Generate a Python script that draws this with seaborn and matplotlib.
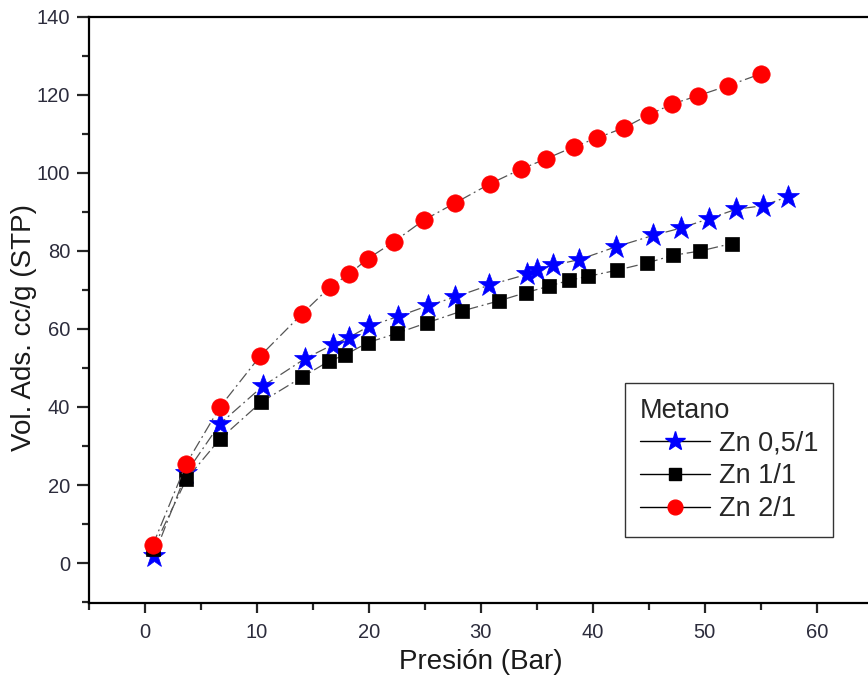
import matplotlib
matplotlib.use("Agg")
import matplotlib.pyplot as plt
from matplotlib.lines import Line2D
from matplotlib.ticker import MultipleLocator
import seaborn as sns

# Data
p_zn05 = [0.8, 3.7, 6.7, 10.5, 14.3, 16.8, 18.2, 20.0, 22.6, 25.3, 27.7, 30.7,
          34.1, 35.0, 36.4, 38.8, 42.1, 45.4, 47.9, 50.4, 52.8, 55.2, 57.4]
v_zn05 = [1.8, 23.2, 35.7, 45.3, 52.4, 56.0, 57.8, 60.7, 63.2, 66.0, 68.2, 71.2,
          74.0, 75.2, 76.3, 77.8, 81.1, 84.0, 85.9, 88.3, 90.7, 91.6, 93.9]

p_zn11 = [0.7, 3.7, 6.7, 10.4, 14.0, 16.4, 17.9, 19.9, 22.5, 25.2, 28.3, 31.6,
          34.0, 36.1, 37.9, 39.6, 42.2, 44.8, 47.2, 49.6, 52.4]
v_zn11 = [3.5, 21.5, 31.8, 41.3, 47.6, 51.7, 53.4, 56.5, 58.9, 61.6, 64.6, 67.2,
          69.3, 71.0, 72.5, 73.5, 75.1, 76.9, 78.9, 80.0, 81.9]

p_zn21 = [0.7, 3.7, 6.7, 10.3, 14.0, 16.5, 18.2, 19.9, 22.2, 24.9, 27.7, 30.8,
          33.6, 35.8, 38.3, 40.4, 42.8, 45.0, 47.1, 49.4, 52.1, 55.0]
v_zn21 = [4.6, 25.5, 40.0, 53.1, 63.8, 70.7, 74.0, 78.0, 82.3, 87.9, 92.3, 97.2,
          101.0, 103.6, 106.7, 109.0, 111.6, 114.9, 117.7, 119.8, 122.4, 125.4]

series = [
    ("Zn 0,5/1", p_zn05, v_zn05, "*", "#0000ff", 17),
    ("Zn 1/1", p_zn11, v_zn11, "s", "#000000", 10),
    ("Zn 2/1", p_zn21, v_zn21, "o", "#ff0000", 12.5),
]


def main():
    sns.set_style("ticks")
    plt.rcParams["font.family"] = ["Liberation Sans", "DejaVu Sans"]

    fig = plt.figure(figsize=(8.68, 6.77), dpi=100)
    ax = fig.add_axes([0.1025, 0.109, 0.903, 0.866])

    handles = []
    for name, x, y, mk, col, ms in series:
        sns.lineplot(x=x, y=y, ax=ax, color="#555555", lw=0.9,
                     linestyle=(0, (9, 3, 1.5, 3)), marker=mk, markersize=ms,
                     markerfacecolor=col, markeredgecolor=col, markeredgewidth=0.5,
                     sort=False, estimator=None)
        handles.append(Line2D([], [], color="black", lw=1.0, marker=mk,
                              markersize=ms * 0.85, markerfacecolor=col,
                              markeredgecolor=col, label=name))

    ax.set_xlim(-5, 65)
    ax.set_ylim(-10.3, 140)
    ax.xaxis.set_major_locator(MultipleLocator(10))
    ax.xaxis.set_minor_locator(MultipleLocator(5))
    ax.yaxis.set_major_locator(MultipleLocator(20))
    ax.yaxis.set_minor_locator(MultipleLocator(10))
    ax.set_yticks(range(0, 141, 20))
    ax.set_xticks(range(0, 61, 10))

    for s in ax.spines.values():
        s.set_linewidth(1.6)
        s.set_color("black")
    ax.tick_params(which="major", direction="out", length=8.5, width=1.6,
                   labelsize=14.5, labelcolor="#2c2c3c", pad=5)
    ax.tick_params(axis="x", which="major", length=7.5, pad=7)
    ax.tick_params(which="minor", direction="out", length=5, width=1.6)

    ax.set_xlabel("Presión (Bar)", fontsize=20, color="#1a1a1a", labelpad=5)
    ax.set_ylabel("Vol. Ads. cc/g (STP)", fontsize=20, color="#1a1a1a")
    ax.yaxis.set_label_coords(-0.066, 0.47)

    leg = ax.legend(handles=handles, title="Metano", loc="lower left",
                    bbox_to_anchor=(0.684, 0.113), borderaxespad=0,
                    fontsize=19.5, title_fontsize=19.5,
                    frameon=True, fancybox=False, edgecolor="black",
                    handlelength=2.6, handletextpad=0.3, labelspacing=0.25,
                    borderpad=0.55)
    leg.get_frame().set_linewidth(1.0)
    leg._legend_box.align = "left"

    fig.savefig("out.png", dpi=100)


if __name__ == "__main__":
    main()
